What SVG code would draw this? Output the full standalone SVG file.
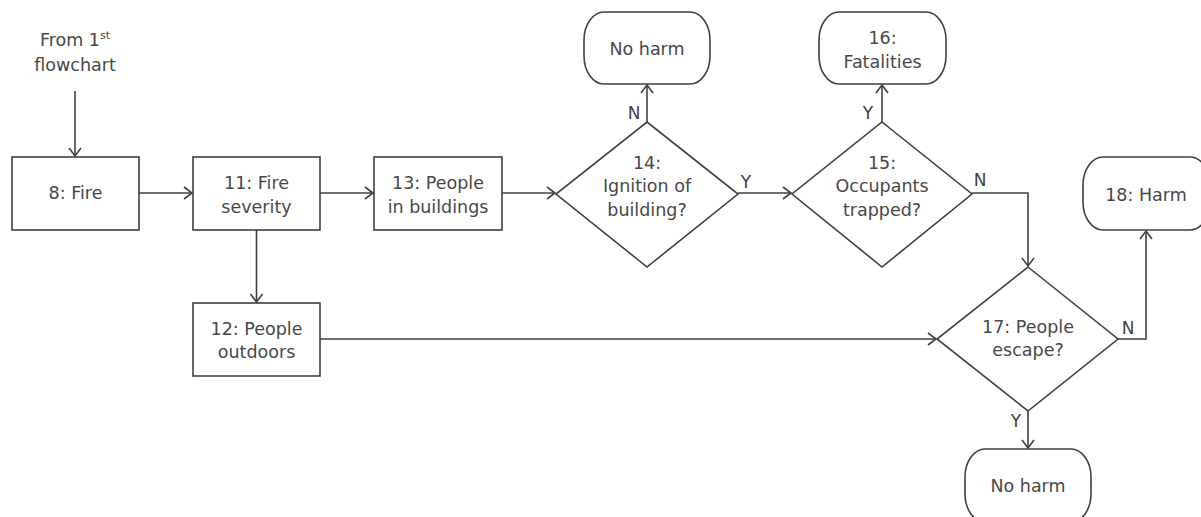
<svg xmlns="http://www.w3.org/2000/svg" width="1201" height="517" viewBox="0 0 1201 517">
<style>
.n{fill:#ffffff;stroke:#404040;stroke-width:1.6}
.t{font-family:"DejaVu Sans",Verdana,sans-serif;font-size:17.5px;fill:#484848;text-anchor:middle}
.l{font-family:"DejaVu Sans",Verdana,sans-serif;font-size:17px;fill:#404040;text-anchor:middle}
.c{fill:none;stroke:#404040;stroke-width:1.6}
</style>
<defs>
<marker id="a" viewBox="-10 -7 12 14" refX="0" refY="0" markerWidth="12" markerHeight="14" markerUnits="userSpaceOnUse" orient="auto">
<path d="M-8,-6 L0,0 L-8,6" fill="none" stroke="#404040" stroke-width="1.6"/>
</marker>
</defs>
<rect width="1201" height="517" fill="#ffffff"/>
<g id="start">
<text class="t" x="75" y="46">From 1<tspan font-size="11px" dy="-7">st</tspan></text>
<text class="t" x="75" y="71">flowchart</text>
</g>
<g id="n8"><rect class="n" x="12" y="157" width="127" height="73"/><text class="t" x="75.5" y="199">8: Fire</text></g>
<g id="n11"><rect class="n" x="193" y="157" width="127" height="73"/><text class="t" x="256.5" y="189">11: Fire</text><text class="t" x="256.5" y="213">severity</text></g>
<g id="n13"><rect class="n" x="374" y="157" width="128" height="73"/><text class="t" x="438" y="189">13: People</text><text class="t" x="438" y="213">in buildings</text></g>
<g id="n12"><rect class="n" x="193" y="303" width="127" height="73"/><text class="t" x="256.5" y="335">12: People</text><text class="t" x="256.5" y="358">outdoors</text></g>
<g id="n14"><polygon class="n" points="647,122 738,194 647,267 556,194"/><text class="t" x="647" y="169">14:</text><text class="t" x="647" y="192">Ignition of</text><text class="t" x="647" y="216">building?</text></g>
<g id="nh1"><rect class="n" x="584" y="12" width="126" height="72" rx="20" ry="28"/><text class="t" x="647" y="55">No harm</text></g>
<g id="n15"><polygon class="n" points="882,122 972,194 882,267 792,194"/><text class="t" x="882" y="169">15:</text><text class="t" x="882" y="192">Occupants</text><text class="t" x="882" y="216">trapped?</text></g>
<g id="n16"><rect class="n" x="819" y="12" width="127" height="72" rx="20" ry="28"/><text class="t" x="882.5" y="44">16:</text><text class="t" x="882.5" y="68">Fatalities</text></g>
<g id="n17"><polygon class="n" points="1028,267 1118,339 1028,411 937,339"/><text class="t" x="1028" y="333">17: People</text><text class="t" x="1028" y="356">escape?</text></g>
<g id="n18"><rect class="n" x="1083" y="157" width="127" height="73" rx="20" ry="28"/><text class="t" x="1146" y="201">18: Harm</text></g>
<g id="nh2"><rect class="n" x="965" y="449" width="126" height="73" rx="20" ry="28"/><text class="t" x="1028" y="492">No harm</text></g>
<g id="connectors">
<path class="c" d="M75,91 V156" marker-end="url(#a)"/>
<path class="c" d="M139,193 H192" marker-end="url(#a)"/>
<path class="c" d="M320,193 H373" marker-end="url(#a)"/>
<path class="c" d="M502,193 H555" marker-end="url(#a)"/>
<path class="c" d="M256.5,230 V302" marker-end="url(#a)"/>
<path class="c" d="M647,122 V85" marker-end="url(#a)"/>
<path class="c" d="M738,193 H791" marker-end="url(#a)"/>
<path class="c" d="M882,122 V85" marker-end="url(#a)"/>
<path class="c" d="M972,193 H1028 V266" marker-end="url(#a)"/>
<path class="c" d="M320,339 H936" marker-end="url(#a)"/>
<path class="c" d="M1118,339 H1146 V231" marker-end="url(#a)"/>
<path class="c" d="M1028,411 V448" marker-end="url(#a)"/>
<text class="l" x="634" y="119">N</text>
<text class="l" x="746" y="188">Y</text>
<text class="l" x="868" y="119">Y</text>
<text class="l" x="980" y="186">N</text>
<text class="l" x="1128" y="334">N</text>
<text class="l" x="1016" y="427">Y</text>
</g>
</svg>
